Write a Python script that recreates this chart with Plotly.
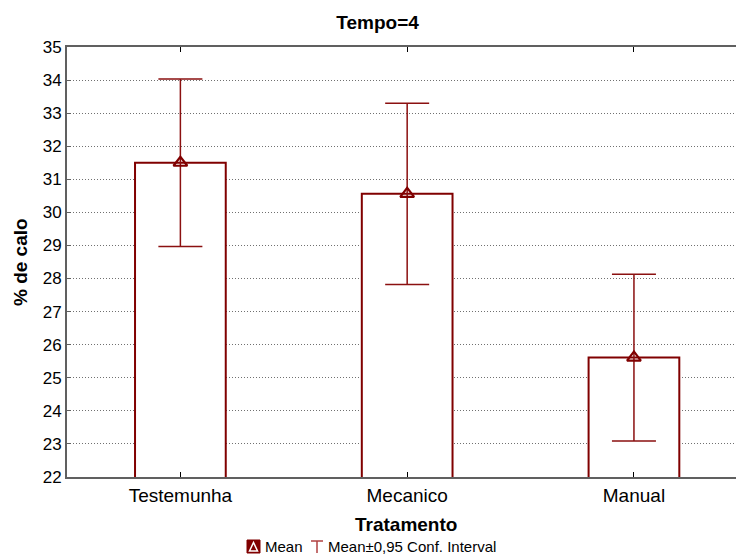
import plotly.graph_objects as go

categories = ["Testemunha", "Mecanico", "Manual"]
means = [31.50, 30.56, 25.61]
ci_half = [2.53, 2.74, 2.52]
y_ticks = list(range(22, 36))

W, H = 736, 554
L, R, T, B = 67, 0, 47, 77
pw, ph = W - L - R, H - T - B

def px(x):
    return (x - L) / pw

def py(y):
    return (H - B - y) / ph

maroon = "#800000"

fig = go.Figure()
fig.add_trace(go.Bar(
    x=categories, y=means, width=0.4,
    marker=dict(color="white", line=dict(color=maroon, width=2)),
    showlegend=False,
))
fig.add_trace(go.Scatter(
    x=categories, y=means, mode="markers",
    marker=dict(symbol="triangle-up-open", size=12, color=maroon,
                line=dict(color=maroon, width=2.2)),
    error_y=dict(type="data", array=ci_half, visible=True,
                 color="#8b1010", thickness=1.5, width=22),
    showlegend=False,
))

font_family = "Liberation Sans, Arial, sans-serif"

shapes = []
shapes.append(dict(type="rect", xref="paper", yref="paper",
                   x0=px(247), x1=px(260), y0=py(553), y1=py(540),
                   fillcolor=maroon, line=dict(color=maroon, width=1)))
tri = "M {a},{b} L {c},{d} L {e},{f} Z".format(
    a=px(249.5), b=py(551), c=px(257.5), d=py(551), e=px(253.5), f=py(542.5))
shapes.append(dict(type="path", xref="paper", yref="paper", path=tri,
                   fillcolor=maroon, line=dict(color="white", width=1.5)))
shapes.append(dict(type="line", xref="paper", yref="paper",
                   x0=px(317), x1=px(317), y0=py(553), y1=py(541),
                   line=dict(color="#b04040", width=1.5)))
shapes.append(dict(type="line", xref="paper", yref="paper",
                   x0=px(311), x1=px(323), y0=py(541), y1=py(541),
                   line=dict(color="#b04040", width=1.5)))

annotations = [
    dict(text="<b>% de calo</b>", xref="paper", yref="paper", x=px(20), y=0.5,
         textangle=-90, showarrow=False, xanchor="center", yanchor="middle",
         font=dict(size=19, color="black", family=font_family)),
    dict(text="<b>Tratamento</b>", xref="paper", yref="paper", x=px(406), y=py(524),
         showarrow=False, xanchor="center", yanchor="middle",
         font=dict(size=19, color="black", family=font_family)),
    dict(text="Mean", xref="paper", yref="paper", x=px(263), y=py(546),
         showarrow=False, xanchor="left", yanchor="middle",
         font=dict(size=15, color="black", family=font_family)),
    dict(text="Mean±0,95 Conf. Interval", xref="paper", yref="paper", x=px(326), y=py(546),
         showarrow=False, xanchor="left", yanchor="middle",
         font=dict(size=15, color="black", family=font_family)),
]

fig.update_layout(
    width=W, height=H,
    margin=dict(l=L, r=R, t=T, b=B),
    paper_bgcolor="white", plot_bgcolor="white",
    title=dict(text="<b>Tempo=4</b>", x=0.513, xanchor="center",
               y=1 - 22 / H, yanchor="middle", yref="container",
               font=dict(size=19, color="black", family=font_family)),
    font=dict(family=font_family, color="black"),
    xaxis=dict(range=[-0.5, 2.45], showgrid=False, ticks="inside", ticklen=5,
               tickcolor="black", showline=True, linecolor="#606060", linewidth=2,
               mirror="ticks", tickfont=dict(size=19, color="black"), zeroline=False),
    yaxis=dict(range=[22, 35], tickvals=y_ticks, showgrid=True, gridcolor="#707070",
               griddash="1px,2px", gridwidth=1, ticks="inside", ticklen=4, tickcolor="#606060",
               showline=True, linecolor="#606060", linewidth=2, zeroline=False,
               tickfont=dict(size=17, color="black")),
    shapes=shapes, annotations=annotations,
)

fig.write_html("out.html", config={"displayModeBar": False},
               post_script="document.body.style.margin='0';document.body.style.padding='0';")
